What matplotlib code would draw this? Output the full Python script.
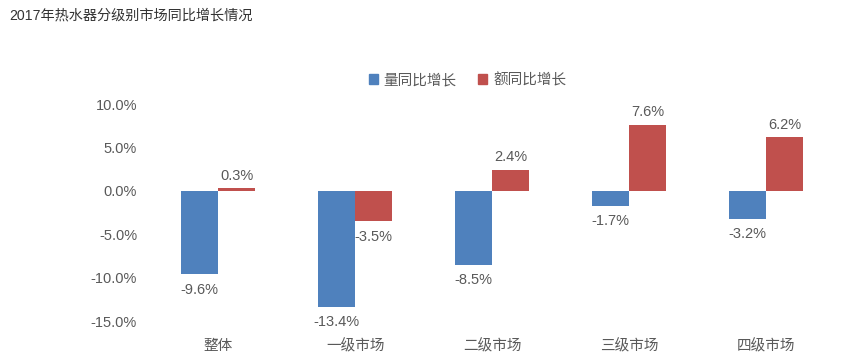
import matplotlib
matplotlib.use("Agg")
import matplotlib.pyplot as plt
import numpy as np
from matplotlib.patches import Patch

plt.rcParams['font.family'] = ['Liberation Sans', 'Noto Sans CJK SC', 'DejaVu Sans']

categories = ['整体', '一级市场', '二级市场', '三级市场', '四级市场']
volume_yoy = [-9.6, -13.4, -8.5, -1.7, -3.2]
value_yoy = [0.3, -3.5, 2.4, 7.6, 6.2]
series_names = ['量同比增长', '额同比增长']
yticks = [10, 5, 0, -5, -10, -15]

blue = '#4F81BD'
red = '#C0504D'
grey = '#595959'

fig = plt.figure(figsize=(8.5, 3.64), dpi=100)
ax = fig.add_axes([0.176, 0.118, 0.806, 0.596])

x = np.arange(len(categories))
w = 0.27
ax.bar(x - w / 2, volume_yoy, w, color=blue)
ax.bar(x + w / 2, value_yoy, w, color=red)

for xs, vals in ((x - w / 2, volume_yoy), (x + w / 2, value_yoy)):
    for xi, v in zip(xs, vals):
        ax.annotate(f'{v:.1f}%', (xi, v), xytext=(0, -6 if v < 0 else 4), textcoords='offset points',
                    ha='center', va='top' if v < 0 else 'bottom', fontsize=10.5, color=grey)

ax.set_xlim(-0.5, len(categories) - 0.5)
ax.set_ylim(-15, 10)
ax.set_yticks(yticks)
ax.set_yticklabels([f'{t:.1f}%' for t in yticks], fontsize=10.5, color=grey)
ax.set_xticks(x)
ax.set_xticklabels(categories, fontsize=10.5, color=grey)
ax.tick_params(axis='both', length=0)
ax.tick_params(axis='y', pad=9)
ax.tick_params(axis='x', pad=13)
for s in ax.spines.values():
    s.set_visible(False)

handles = [Patch(color=blue), Patch(color=red)]
fig.legend(handles, series_names, loc='center', bbox_to_anchor=(0.55, 0.78), ncol=2,
           frameon=False, fontsize=10.5, handlelength=0.6, handleheight=0.6,
           handletextpad=0.4, columnspacing=1.5, labelcolor=grey)

fig.text(0.011, 0.958, '2017年热水器分级别市场同比增长情况', fontsize=10.2, color='#333333', va='center', ha='left')

fig.savefig('out.png', dpi=100, facecolor='white')
